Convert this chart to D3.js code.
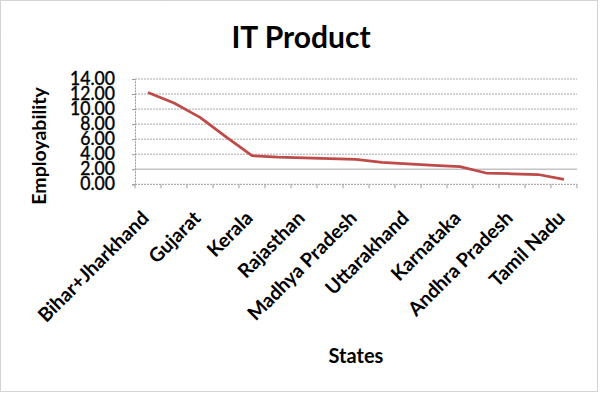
<!DOCTYPE html>
<html>
<head>
<meta charset="utf-8">
<script src="https://cdn.jsdelivr.net/npm/d3@7"></script>
<style>
  body { margin: 0; background: #fff; }
  svg text { font-family: Lato, "Open Sans", sans-serif; font-weight: bold; fill: #000; }
</style>
</head>
<body>
<svg width="600" height="395"></svg>
<script>
// states in chart order (only every other one gets a label in the picture)
var states = ["Bihar+Jharkhand", "Delhi", "Gujarat", "Haryana", "Kerala", "Punjab",
  "Rajasthan", "Maharashtra", "Madhya Pradesh", "Orissa", "Uttarakhand", "West Bengal",
  "Karnataka", "Uttar Pradesh", "Andhra Pradesh", "Chhattisgarh", "Tamil Nadu"];
var employability = [12.2, 10.8, 8.9, 6.3, 3.8, 3.6, 3.5, 3.4, 3.3, 2.9, 2.7, 2.5,
  2.35, 1.5, 1.4, 1.3, 0.65];
var yTicks = [0, 2, 4, 6, 8, 10, 12, 14];

var svg = d3.select("svg");
var padding = {left: 135, right: 23, top: 79, bottom: 211};
var width = +svg.attr("width"), height = +svg.attr("height");

// outer chart border
svg.append("rect")
  .attr("x", 0.5).attr("y", 0.5)
  .attr("width", 597).attr("height", 391)
  .style("fill", "none").style("stroke", "#a6a6a6")
  .style("stroke-dasharray", "1,1");

var x = d3.scaleBand().domain(states).range([padding.left, width - padding.right]);
var y = d3.scaleLinear().domain([0, 14]).range([height - padding.bottom + 0.3, padding.top]);

// gridlines
svg.selectAll("line.grid")
  .data(yTicks.filter(function(d) { return d > 0; }))
  .enter().append("line")
  .attr("class", "grid")
  .attr("x1", padding.left).attr("x2", width - padding.right)
  .attr("y1", function(d) { return y(d); }).attr("y2", function(d) { return y(d); })
  .style("stroke", function(d) { return d == 2 ? "#c4c4c4" : "#a8a8a8"; })
  .style("stroke-width", function(d) { return d == 2 ? 1.5 : 1; })
  .style("stroke-dasharray", function(d) { return d == 2 ? null : "2,1"; });

// y axis
var yAxis = d3.axisLeft(y).tickValues(yTicks).tickFormat(d3.format(".2f")).tickSize(3).tickPadding(20);
var gY = svg.append("g")
  .attr("transform", "translate(" + padding.left + ",0)")
  .call(yAxis);
gY.select(".domain").style("stroke", "#9a9a9a").style("stroke-dasharray", "2,1");
gY.selectAll(".tick line").style("stroke", "#9a9a9a");
gY.selectAll(".tick text")
  .style("font-size", "16px")
  .style("font-weight", "normal")
  .style("stroke", "#000")
  .style("stroke-width", 0.35)
  .attr("dy", null)
  .attr("y", 0)
  .attr("x", 0)
  .attr("transform", "translate(-20,5.5) scale(1.1,1.2)");

// x axis: ticks between categories
var bottomY = y(0);
svg.append("line")
  .attr("x1", padding.left).attr("x2", width - padding.right)
  .attr("y1", bottomY).attr("y2", bottomY)
  .style("stroke", "#9a9a9a").style("stroke-dasharray", "2,1");
svg.selectAll("line.xtick")
  .data(d3.range(states.length + 1))
  .enter().append("line")
  .attr("class", "xtick")
  .attr("x1", function(i) { return padding.left + i * x.step(); })
  .attr("x2", function(i) { return padding.left + i * x.step(); })
  .attr("y1", bottomY).attr("y2", bottomY + 4)
  .style("stroke", "#9a9a9a");

// rotated category labels, every other one
svg.selectAll("text.xlab")
  .data(states.filter(function(d, i) { return i % 2 == 0; }))
  .enter().append("text")
  .attr("class", "xlab")
  .attr("text-anchor", "end")
  .style("font-size", "19.5px")
  .attr("transform", function(d) {
    return "translate(" + (x(d) + x.bandwidth() / 2 + 2) + "," + (bottomY + 35) + ") rotate(-45)";
  })
  .text(function(d) { return d; });

// data line
var line = d3.line()
  .x(function(d, i) { return x(states[i]) + x.bandwidth() / 2; })
  .y(function(d) { return y(d); });
svg.append("path")
  .datum(employability)
  .attr("d", line)
  .style("fill", "none")
  .style("stroke", "#be4b48")
  .style("stroke-width", 2.75)
  .style("stroke-linejoin", "round");

// titles
svg.append("text")
  .attr("x", 301).attr("y", 48)
  .attr("text-anchor", "middle")
  .style("font-size", "30px")
  .text("IT Product");

svg.append("text")
  .attr("transform", "translate(46,146) rotate(-90)")
  .attr("text-anchor", "middle")
  .style("font-size", "19.5px")
  .text("Employability");

svg.append("text")
  .attr("x", (padding.left + width - padding.right) / 2).attr("y", 363)
  .attr("text-anchor", "middle")
  .style("font-size", "20px")
  .text("States");
</script>
</body>
</html>
